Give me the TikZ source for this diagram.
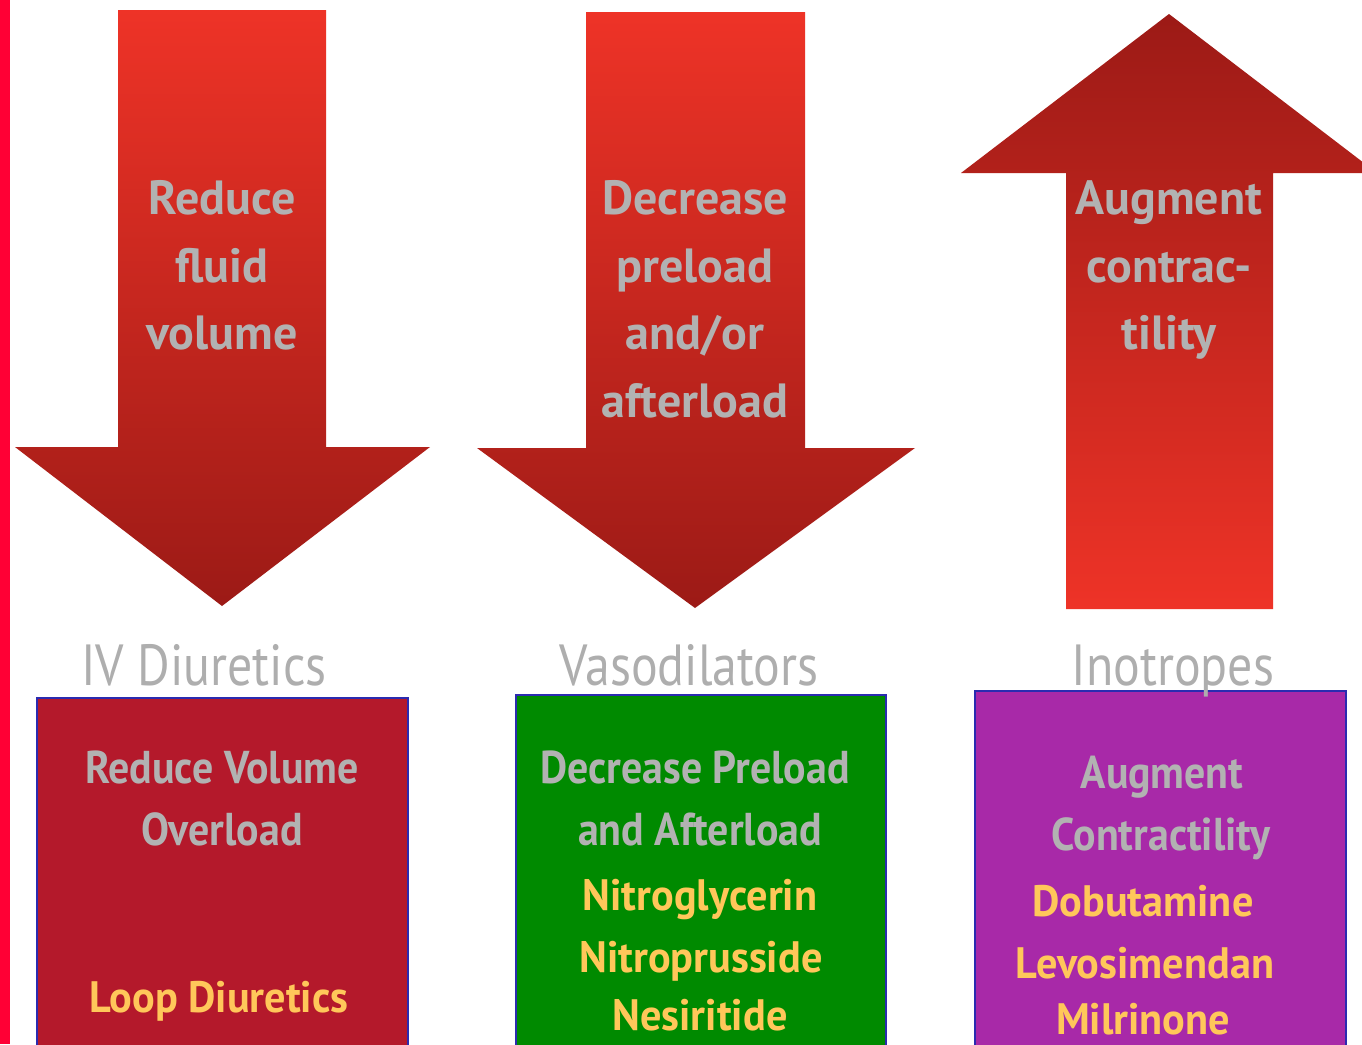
\documentclass[tikz,border=0pt]{standalone}
\usepackage{fontspec}
\setmainfont{PT Sans}
\newfontfamily\lblfont[FakeStretch=0.86]{PT Sans}
\newfontfamily\boxfont[FakeStretch=0.91]{PT Sans}
\newfontfamily\drugfont[FakeStretch=0.96]{PT Sans}
\definecolor{barred}{HTML}{FF0035}
\definecolor{arbright}{HTML}{EE3327}
\definecolor{ardark}{HTML}{9C1A16}
\definecolor{txtgray}{HTML}{B2B2B2}
\definecolor{lblgray}{HTML}{AEAEAE}
\definecolor{drugyel}{HTML}{FFC75A}
\definecolor{boxred}{HTML}{B4192B}
\definecolor{boxgreen}{HTML}{008A00}
\definecolor{boxpurple}{HTML}{A829A8}
\definecolor{boxedge}{HTML}{2B2BB0}
\tikzset{
  arrowtxt/.style={anchor=base, text=txtgray, font=\fontsize{48}{56}\selectfont\bfseries, inner sep=0pt},
  lbltxt/.style={anchor=base, text=lblgray, font=\lblfont\fontsize{58}{64}\selectfont, inner sep=0pt},
  boxtxt/.style={anchor=base, text=txtgray, font=\boxfont\fontsize{46}{52}\selectfont\bfseries, inner sep=0pt},
  drugtxt/.style={anchor=base, text=drugyel, font=\drugfont\fontsize{44}{50}\selectfont\bfseries, inner sep=0pt},
  medbox/.style={draw=boxedge, line width=1.2pt}
}
\begin{document}
\begin{tikzpicture}[x=1pt,y=-1pt]
\useasboundingbox (0,0) rectangle (1362,1044);
\fill[white] (0,0) rectangle (1362,1044);
% left bar
\fill[barred] (0,0) rectangle (10,1044);
% arrows
\shade[top color=arbright, bottom color=ardark]
  (118,10) -- (326,10) -- (326,447) -- (430,447) -- (222,606) -- (15,447) -- (118,447) -- cycle;
\shade[top color=arbright, bottom color=ardark]
  (586,12) -- (805,12) -- (805,448) -- (915,448) -- (695,608) -- (477,448) -- (586,448) -- cycle;
\shade[top color=ardark, bottom color=arbright]
  (1169,14) -- (1377,173) -- (1273,173) -- (1273,609) -- (1066,609) -- (1066,173) -- (961,173) -- cycle;
% arrow texts
\node[arrowtxt] (a1l1) at (222,214) {Reduce};
\node[arrowtxt] (a1l2) at (222,282) {fluid};
\node[arrowtxt] (a1l3) at (222,349) {volume};
\node[arrowtxt] (a2l1) at (695,214) {Decrease};
\node[arrowtxt] (a2l2) at (695,282) {preload};
\node[arrowtxt] (a2l3) at (695,349) {and/or};
\node[arrowtxt] (a2l4) at (695,417) {afterload};
\node[arrowtxt] (a3l1) at (1169,214) {Augment};
\node[arrowtxt] (a3l2) at (1169,282) {contrac-};
\node[arrowtxt] (a3l3) at (1169,349) {tility};
% boxes
\filldraw[medbox, fill=boxred] (37,698) rectangle (408,1050);
\filldraw[medbox, fill=boxgreen] (516,695) rectangle (886,1050);
\filldraw[medbox, fill=boxpurple] (975,691) rectangle (1346,1050);
% labels (drawn over the boxes, as the descender of p crosses the edge)
\node[lbltxt] (lab1) at (204,685) {IV Diuretics};
\node[lbltxt] (lab2) at (689,685) {Vasodilators};
\node[lbltxt] (lab3) at (1173,685) {Inotropes};
% box 1 text
\node[boxtxt] (b1l1) at (222,783) {Reduce Volume};
\node[boxtxt] (b1l2) at (222,845) {Overload};
\node[drugtxt] (b1d1) at (219,1012) {Loop Diuretics};
% box 2 text
\node[boxtxt] (b2l1) at (695,783) {Decrease Preload};
\node[boxtxt] (b2l2) at (700,845) {and Afterload};
\node[drugtxt] (b2d1) at (700,910) {Nitroglycerin};
\node[drugtxt] (b2d2) at (701,972) {Nitroprusside};
\node[drugtxt] (b2d3) at (700,1030) {Nesiritide};
% box 3 text
\node[boxtxt] (b3l1) at (1162,788) {Augment};
\node[boxtxt] (b3l2) at (1161,850) {Contractility};
\node[drugtxt] (b3d1) at (1143,916) {Dobutamine};
\node[drugtxt] (b3d2) at (1145,978) {Levosimendan};
\node[drugtxt] (b3d3) at (1143,1034) {Milrinone};
\end{tikzpicture}
\end{document}
